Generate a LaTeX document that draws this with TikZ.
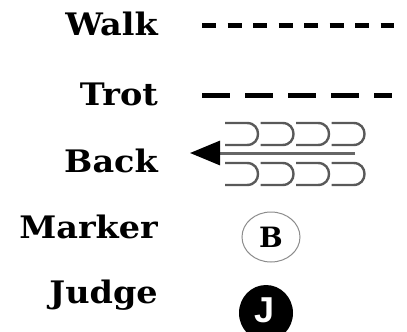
\documentclass[tikz,border=0pt]{standalone}
\usepackage{fontspec}
\setmainfont{DejaVu Serif}
\newfontfamily\jfont{Liberation Sans}
\usetikzlibrary{arrows.meta,shapes.geometric}
\begin{document}
\begin{tikzpicture}[x=1pt,y=-1pt,
  lbl/.style={anchor=base east,inner sep=0pt,xscale=1.08,font=\fontsize{31}{31}\selectfont\bfseries},
  walkline/.style={line width=5pt,dash pattern=on 14pt off 11.5pt},
  trotline/.style={line width=5pt,dash pattern=on 28pt off 15pt},
  ushape/.style={line width=2.4pt,draw=black!65},
  backarrow/.style={line width=3pt,draw=black!60,-{Triangle[length=30pt,width=24pt,color=black]}}]
\useasboundingbox (0,0) rectangle (407,332);
\begin{scope}
\clip (0,0) rectangle (407,332);
\node[lbl] (walk) at (158,35) {Walk};
\node[lbl] (trot) at (158,105) {Trot};
\node[lbl] (back) at (158,172) {Back};
\node[lbl] (marker) at (158,238) {Marker};
\node[lbl] (judge) at (158,303) {Judge};
\coordinate (w1) at (202,25); \coordinate (w2) at (394,25);
\draw[walkline] (w1) -- (w2);
\coordinate (t1) at (202,95); \coordinate (t2) at (392,95);
\draw[trotline] (t1) -- (t2);
\foreach \i in {0,1,2,3}{
  \pgfmathsetmacro{\xa}{225+35.5*\i}
  \pgfmathsetmacro{\xb}{247+35.5*\i}
  \pgfmathsetmacro{\xc}{261.7+35.5*\i}
  \draw[ushape] (\xa,123) -- (\xb,123) .. controls (\xc,123) and (\xc,145) .. (\xb,145) -- (\xa,145);
  \draw[ushape] (\xa,163) -- (\xb,163) .. controls (\xc,163) and (\xc,185) .. (\xb,185) -- (\xa,185);
}
\coordinate (b1) at (355,153); \coordinate (b2) at (190,153);
\draw[backarrow] (b1) -- (b2);
\node[draw=black!45,line width=1pt,ellipse,minimum width=58pt,minimum height=50pt,inner sep=0pt,font=\fontsize{28}{28}\selectfont\bfseries] (bm) at (271,237) {B};
\fill[black] (266,313) ellipse [x radius=27, y radius=28];
\node[inner sep=0pt,text=white,font=\jfont\fontsize{36}{36}\selectfont\bfseries] (jm) at (265,310) {J};
\end{scope}
\end{tikzpicture}
\end{document}
